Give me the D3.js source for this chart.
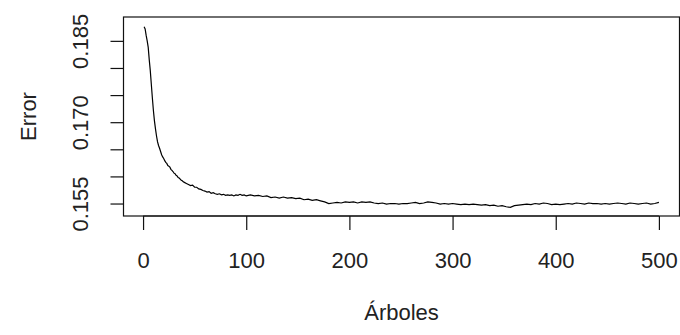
<!DOCTYPE html>
<html>
<head>
<meta charset="utf-8">
<script src="https://cdn.jsdelivr.net/npm/d3@7"></script>
<style>
  body { margin: 0; background: #fff; }
  text { font-family: "Liberation Sans", Arial, sans-serif; fill: #222; }
</style>
</head>
<body>
<div id="chart"></div>
<script>
// number of trees (x) and OOB error (y)
const trees = [
  1,2,3,4,5,6,7,8,9,10,11,12,13,14,15,16,17,18,19,20,
  21,22,23,24,25,26,27,28,29,30,31,32,33,34,35,36,37,38,39,40,
  42,44,46,48,50,52,54,56,58,60,62,64,66,68,70,72,74,76,78,80,
  82,84,86,88,90,92,94,96,98,100,
  104,108,112,116,120,124,128,132,136,140,144,148,152,156,160,164,168,172,176,180,
  184,188,192,196,200,204,208,212,216,220,224,228,232,236,240,244,248,252,256,260,
  264,268,272,276,280,284,288,292,296,300,304,308,312,316,320,324,328,332,336,340,
  344,348,352,356,360,364,368,372,376,380,384,388,392,396,400,404,408,412,416,420,
  424,428,432,436,440,444,448,452,456,460,464,468,472,476,480,484,488,492,496,500
];
const errors = [
  0.1876,0.1872,0.1860,0.1850,0.1838,0.1815,0.1795,0.1770,0.1745,0.1722,
  0.1703,0.1688,0.1675,0.1664,0.1657,0.1652,0.1646,0.1640,0.1636,0.1633,
  0.1629,0.1626,0.1624,0.1620,0.1619,0.1617,0.1613,0.1611,0.1609,0.1606,
  0.1605,0.1602,0.1601,0.1598,0.1597,0.1595,0.1593,0.1592,0.1590,0.1589,
  0.1587,0.1585,0.1583,0.1584,0.1580,0.1580,0.1577,0.1576,0.1574,0.1573,
  0.1571,0.1572,0.1569,0.1570,0.1568,0.1567,0.1568,0.1566,0.1567,0.1565,
  0.1566,0.1565,0.1566,0.1564,0.1566,0.1565,0.1567,0.1565,0.1566,0.1564,
  0.1566,0.1564,0.1565,0.1563,0.1564,0.1561,0.1562,0.1560,0.1562,0.1560,
  0.1561,0.1559,0.1560,0.1557,0.1558,0.1556,0.1557,0.1555,0.1553,0.1550,
  0.1551,0.1552,0.1551,0.1553,0.1552,0.1553,0.1551,0.1553,0.1552,0.1553,
  0.1551,0.1550,0.1551,0.1549,0.1550,0.1550,0.1549,0.1550,0.1550,0.1551,
  0.1552,0.1550,0.1551,0.1553,0.1552,0.1551,0.1549,0.1550,0.1549,0.1550,
  0.1549,0.1548,0.1549,0.1548,0.1549,0.1548,0.1547,0.1548,0.1546,0.1547,
  0.1545,0.1546,0.1544,0.1543,0.1546,0.1547,0.1548,0.1549,0.1548,0.1550,
  0.1549,0.1551,0.1550,0.1548,0.1549,0.1548,0.1549,0.1550,0.1549,0.1551,
  0.1550,0.1549,0.1551,0.1550,0.1550,0.1549,0.1550,0.1549,0.1550,0.1551,
  0.1550,0.1549,0.1551,0.1550,0.1549,0.1550,0.1551,0.1549,0.1550,0.1552
];
const xTicks = [0, 100, 200, 300, 400, 500];
const yTicks = [0.155, 0.160, 0.165, 0.170, 0.175, 0.180, 0.185];
const yLabelled = [0.155, 0.170, 0.185];

const width = 680, height = 335;
const plot = {left: 123.5, right: 679.5, top: 17, bottom: 216};

const svg = d3.select("#chart").append("svg")
  .attr("width", width)
  .attr("height", height);

// R style 4% padding around the data range
const x = d3.scaleLinear()
  .domain([1 - 19.96, 500 + 19.96])
  .range([plot.left, plot.right]);
const y = d3.scaleLinear()
  .domain([0.1527, 0.1894])
  .range([plot.bottom, plot.top]);

// the line
const line = d3.line()
  .x((d, i) => x(trees[i]))
  .y(d => y(d));

svg.append("path")
  .datum(errors)
  .attr("fill", "none")
  .attr("stroke", "#000")
  .attr("stroke-width", 1.2)
  .attr("stroke-linejoin", "miter")
  .attr("d", line);

// box
svg.append("rect")
  .attr("x", plot.left)
  .attr("y", plot.top)
  .attr("width", plot.right - plot.left)
  .attr("height", plot.bottom - plot.top)
  .attr("fill", "none")
  .attr("stroke", "#111")
  .attr("stroke-width", 1.2);

// x axis
const xAxis = d3.axisBottom(x)
  .tickValues(xTicks)
  .tickSize(14)
  .tickPadding(22)
  .tickFormat(d3.format("d"));

const gx = svg.append("g")
  .attr("transform", `translate(0,${plot.bottom})`)
  .call(xAxis);
gx.select(".domain")
  .attr("d", `M${x(0)},0H${x(500)}`)
  .attr("stroke", "#111");
gx.selectAll(".tick line").attr("stroke", "#111").attr("stroke-width", 1.2);
gx.selectAll(".tick text")
  .attr("font-size", 22)
  .attr("font-family", "Liberation Sans, Arial, sans-serif")
  .attr("fill", "#222");

// y axis
const yAxis = d3.axisLeft(y)
  .tickValues(yTicks)
  .tickSize(13)
  .tickFormat(d => yLabelled.some(v => Math.abs(v - d) < 1e-9) ? d3.format(".3f")(d) : "");

const gy = svg.append("g")
  .attr("transform", `translate(${plot.left},0)`)
  .call(yAxis);
gy.select(".domain")
  .attr("d", `M0,${y(0.155)}V${y(0.185)}`)
  .attr("stroke", "#111");
gy.selectAll(".tick line").attr("stroke", "#111").attr("stroke-width", 1.2);
gy.selectAll(".tick text")
  .attr("font-size", 22)
  .attr("font-family", "Liberation Sans, Arial, sans-serif")
  .attr("fill", "#222")
  .attr("x", null)
  .attr("dy", null)
  .attr("text-anchor", "middle")
  .attr("transform", "translate(-35.5,0) rotate(-90)");

// axis titles
svg.append("text")
  .attr("x", (plot.left + plot.right) / 2)
  .attr("y", 320)
  .attr("text-anchor", "middle")
  .style("font-size", "22px")
  .text("Árboles");

svg.append("text")
  .attr("transform", `translate(36,${(plot.top + plot.bottom) / 2}) rotate(-90)`)
  .attr("text-anchor", "middle")
  .style("font-size", "22px")
  .text("Error");
</script>
</body>
</html>
